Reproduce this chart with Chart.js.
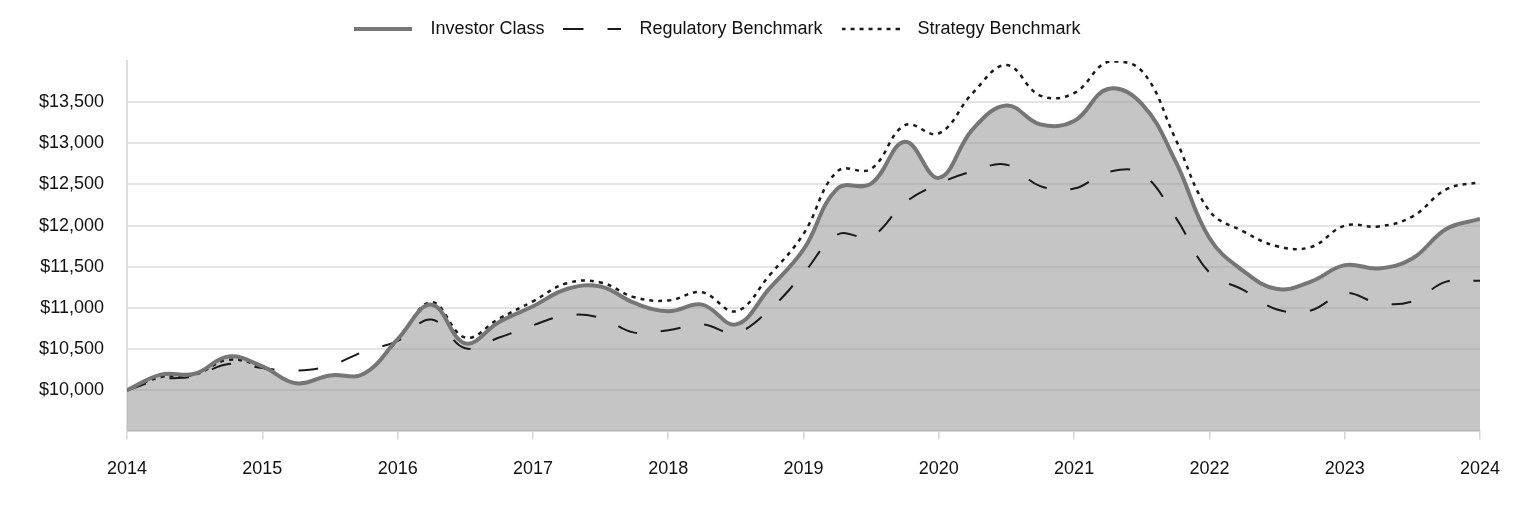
<!DOCTYPE html>
<html>
<head>
<meta charset="utf-8">
<script src="https://cdn.jsdelivr.net/npm/chart.js@4"></script>
<style>
  html, body { margin: 0; padding: 0; background: #fff; }
  #wrap { width: 1524px; height: 516px; }
</style>
</head>
<body>
<div id="wrap"><canvas id="growthChart"></canvas></div>
<script>
// Growth of $10,000 - quarterly values

const periods = [
  2014, 2014.25, 2014.5, 2014.75,
  2015, 2015.25, 2015.5, 2015.75,
  2016, 2016.25, 2016.5, 2016.75,
  2017, 2017.25, 2017.5, 2017.75,
  2018, 2018.25, 2018.5, 2018.75,
  2019, 2019.25, 2019.5, 2019.75,
  2020, 2020.25, 2020.5, 2020.75,
  2021, 2021.25, 2021.5, 2021.75,
  2022, 2022.25, 2022.5, 2022.75,
  2023, 2023.25, 2023.5, 2023.75,
  2024,
];

const investorClass = [
  10000, 10190, 10200, 10410,
  10290, 10085, 10180, 10200,
  10620, 11040, 10570, 10830,
  11020, 11230, 11260, 11060,
  10960, 11040, 10800, 11240,
  11710, 12450, 12510, 13020,
  12580, 13170, 13460, 13230,
  13270, 13660, 13480, 12780,
  11850, 11450, 11230, 11320,
  11520, 11480, 11600, 11960,
  12080,
];

const regulatoryBenchmark = [
  10000, 10130, 10170, 10320,
  10270, 10240, 10300, 10470,
  10600, 10860, 10510, 10640,
  10790, 10910, 10880, 10700,
  10730, 10800, 10700, 10980,
  11420, 11890, 11870, 12280,
  12510, 12660, 12740, 12480,
  12450, 12650, 12630, 12100,
  11430, 11220, 10980, 10970,
  11180, 11060, 11080, 11320,
  11330,
];

const strategyBenchmark = [
  10000, 10160, 10190, 10370,
  10280, 10085, 10180, 10200,
  10610, 11070, 10640, 10870,
  11080, 11300, 11310, 11130,
  11090, 11190, 10960, 11400,
  11900, 12660, 12690, 13220,
  13120, 13610, 13950, 13580,
  13610, 13990, 13880, 13050,
  12180, 11930, 11750, 11740,
  12000, 11990, 12110, 12440,
  12530,
];

const seriesLabels = ['Investor Class', 'Regulatory Benchmark', 'Strategy Benchmark'];

const COLORS = {
  investorLine: '#767676',
  investorFill: 'rgba(150, 150, 150, 0.55)',
  benchmark: '#1a1a1a',
  grid: '#e4e4e4',
  axis: '#dedede',
  text: '#111111',
};

const FONT = { family: "'Liberation Sans', Arial, sans-serif", size: 18 };

// legend swatch drawn as a small canvas so the line length can be set freely
function makeSwatch(color, width, dash) {
  const c = document.createElement('canvas');
  c.width = 58;
  c.height = 8;
  const g = c.getContext('2d');
  g.strokeStyle = color;
  g.lineWidth = width;
  g.setLineDash(dash);
  g.beginPath();
  g.moveTo(0, 4);
  g.lineTo(58, 4);
  g.stroke();
  return c;
}

function toPoints(values) {
  return periods.map((x, i) => ({ x: x, y: values[i] }));
}

// legend sits left of centre in the reference, with extra room below it
const legendTweak = {
  id: 'legendTweak',
  beforeLayout(chart) {
    const legend = chart.legend;
    if (!legend || legend._tweaked) return;
    const fit = legend.fit;
    legend.fit = function() {
      fit.call(this);
      this.height += 13;
    };
    legend._tweaked = true;
  },
  afterLayout(chart) {
    chart.legend.left -= 35;
    chart.legend.right -= 35;
  },
};

const ctx = document.getElementById('growthChart').getContext('2d');

new Chart(ctx, {
  type: 'line',
  data: {
    datasets: [
      {
        label: seriesLabels[0],
        data: toPoints(investorClass),
        borderColor: COLORS.investorLine,
        backgroundColor: COLORS.investorFill,
        borderWidth: 4,
        fill: 'start',
        pointRadius: 0,
        pointStyle: makeSwatch(COLORS.investorLine, 4, []),
        tension: 0.4,
      },
      {
        label: seriesLabels[1],
        data: toPoints(regulatoryBenchmark),
        borderColor: COLORS.benchmark,
        borderWidth: 2,
        borderDash: [20, 24],
        fill: false,
        pointRadius: 0,
        pointStyle: makeSwatch(COLORS.benchmark, 2, [20, 24]),
        tension: 0.4,
      },
      {
        label: seriesLabels[2],
        data: toPoints(strategyBenchmark),
        borderColor: COLORS.benchmark,
        borderWidth: 2.5,
        borderDash: [4, 5],
        fill: false,
        pointRadius: 0,
        pointStyle: makeSwatch(COLORS.benchmark, 2.5, [4, 5]),
        tension: 0.4,
      },
    ],
  },
  options: {
    responsive: true,
    maintainAspectRatio: false,
    animation: false,
    layout: {
      padding: { top: 10, left: 16, right: 44, bottom: 17 },
    },
    plugins: {
      filler: { drawTime: 'beforeDatasetsDraw' },
      tooltip: { enabled: false },
      legend: {
        display: true,
        position: 'top',
        labels: {
          usePointStyle: true,
          pointStyleWidth: 76,
          padding: 10,
          color: COLORS.text,
          font: FONT,
        },
      },
    },
    scales: {
      x: {
        type: 'linear',
        min: 2014,
        max: 2024,
        ticks: {
          stepSize: 1,
          color: COLORS.text,
          font: FONT,
          padding: 19,
          maxRotation: 0,
          callback: (v) => String(v),
        },
        grid: {
          drawOnChartArea: false,
          drawTicks: true,
          tickLength: 8,
          color: '#d6d6d6',
          lineWidth: 1.5,
        },
        border: { display: true, color: COLORS.axis, width: 2 },
      },
      y: {
        min: 9500,
        max: 14000,
        ticks: {
          stepSize: 500,
          color: COLORS.text,
          font: FONT,
          padding: 23,
          callback: (v) => (v === 9500 || v === 14000) ? null : '$' + v.toLocaleString('en-US'),
        },
        grid: {
          drawTicks: false,
          color: COLORS.grid,
          lineWidth: 2,
        },
        border: { display: true, color: COLORS.axis, width: 2 },
      },
    },
  },
  plugins: [legendTweak],
});
</script>
</body>
</html>
